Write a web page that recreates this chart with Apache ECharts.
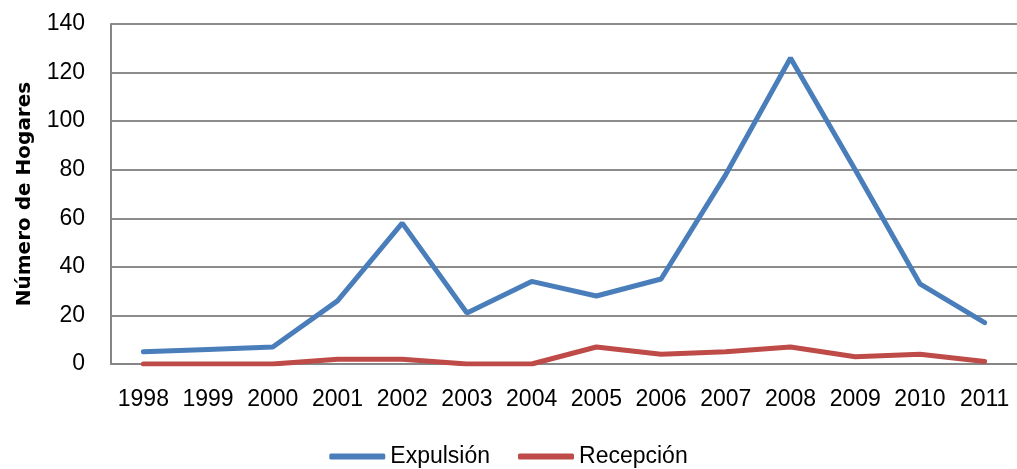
<!DOCTYPE html>
<html>
<head>
<meta charset="utf-8">
<script src="https://cdn.jsdelivr.net/npm/echarts@6/dist/echarts.min.js"></script>
<style>
  html, body { margin: 0; padding: 0; background: #fff; }
  #main { width: 1017px; height: 469px; }
</style>
</head>
<body>
<div id="main"></div>
<script>
var years = ['1998', '1999', '2000', '2001', '2002', '2003', '2004', '2005', '2006', '2007', '2008', '2009', '2010', '2011'];
var expulsion = [5, 6, 7, 26, 58, 21, 34, 28, 35, 78, 126, 80, 33, 17];
var recepcion = [0, 0, 0, 2, 2, 0, 0, 7, 4, 5, 7, 3, 4, 1];

var chartDom = document.getElementById('main');
var myChart = echarts.init(chartDom);
var option;

var font = 'Liberation Sans';

option = {
    animation: false,
    grid: {
        left: 111,
        right: -3,
        top: 24,
        bottom: 105
    },
    legend: {
        top: 440,
        left: 'center',
        icon: 'roundRect',
        itemWidth: 56,
        itemHeight: 6,
        itemGap: 28,
        textStyle: {
            fontFamily: font,
            fontSize: 23,
            color: '#000'
        },
        data: ['Expulsión', 'Recepción']
    },
    xAxis: {
        type: 'category',
        data: years,
        boundaryGap: true,
        axisLine: { show: true, lineStyle: { color: '#868686', width: 2 } },
        axisTick: { show: false },
        axisLabel: {
            interval: 0,
            margin: 24,
            fontFamily: font,
            fontSize: 23,
            color: '#000'
        }
    },
    yAxis: {
        type: 'value',
        min: 0,
        max: 140,
        interval: 20,
        name: 'Número de Hogares',
        nameLocation: 'middle',
        nameGap: 76,
        nameTextStyle: {
            fontFamily: 'DejaVu Sans',
            fontSize: 20,
            fontWeight: 'bold',
            color: '#000'
        },
        axisLine: { show: true, lineStyle: { color: '#868686', width: 2 } },
        axisTick: { show: false },
        axisLabel: {
            margin: 26,
            fontFamily: font,
            fontSize: 23,
            color: '#000'
        },
        splitLine: { lineStyle: { color: '#8c8c8c', width: 2 } }
    },
    series: [
        {
            name: 'Expulsión',
            type: 'line',
            data: expulsion,
            symbol: 'none',
            lineStyle: { color: '#4a7ebb', width: 5, cap: 'round' },
            itemStyle: { color: '#4a7ebb' }
        },
        {
            name: 'Recepción',
            type: 'line',
            data: recepcion,
            symbol: 'none',
            lineStyle: { color: '#be4b48', width: 5, cap: 'round' },
            itemStyle: { color: '#be4b48' }
        }
    ]
};

option && myChart.setOption(option);
</script>
</body>
</html>
